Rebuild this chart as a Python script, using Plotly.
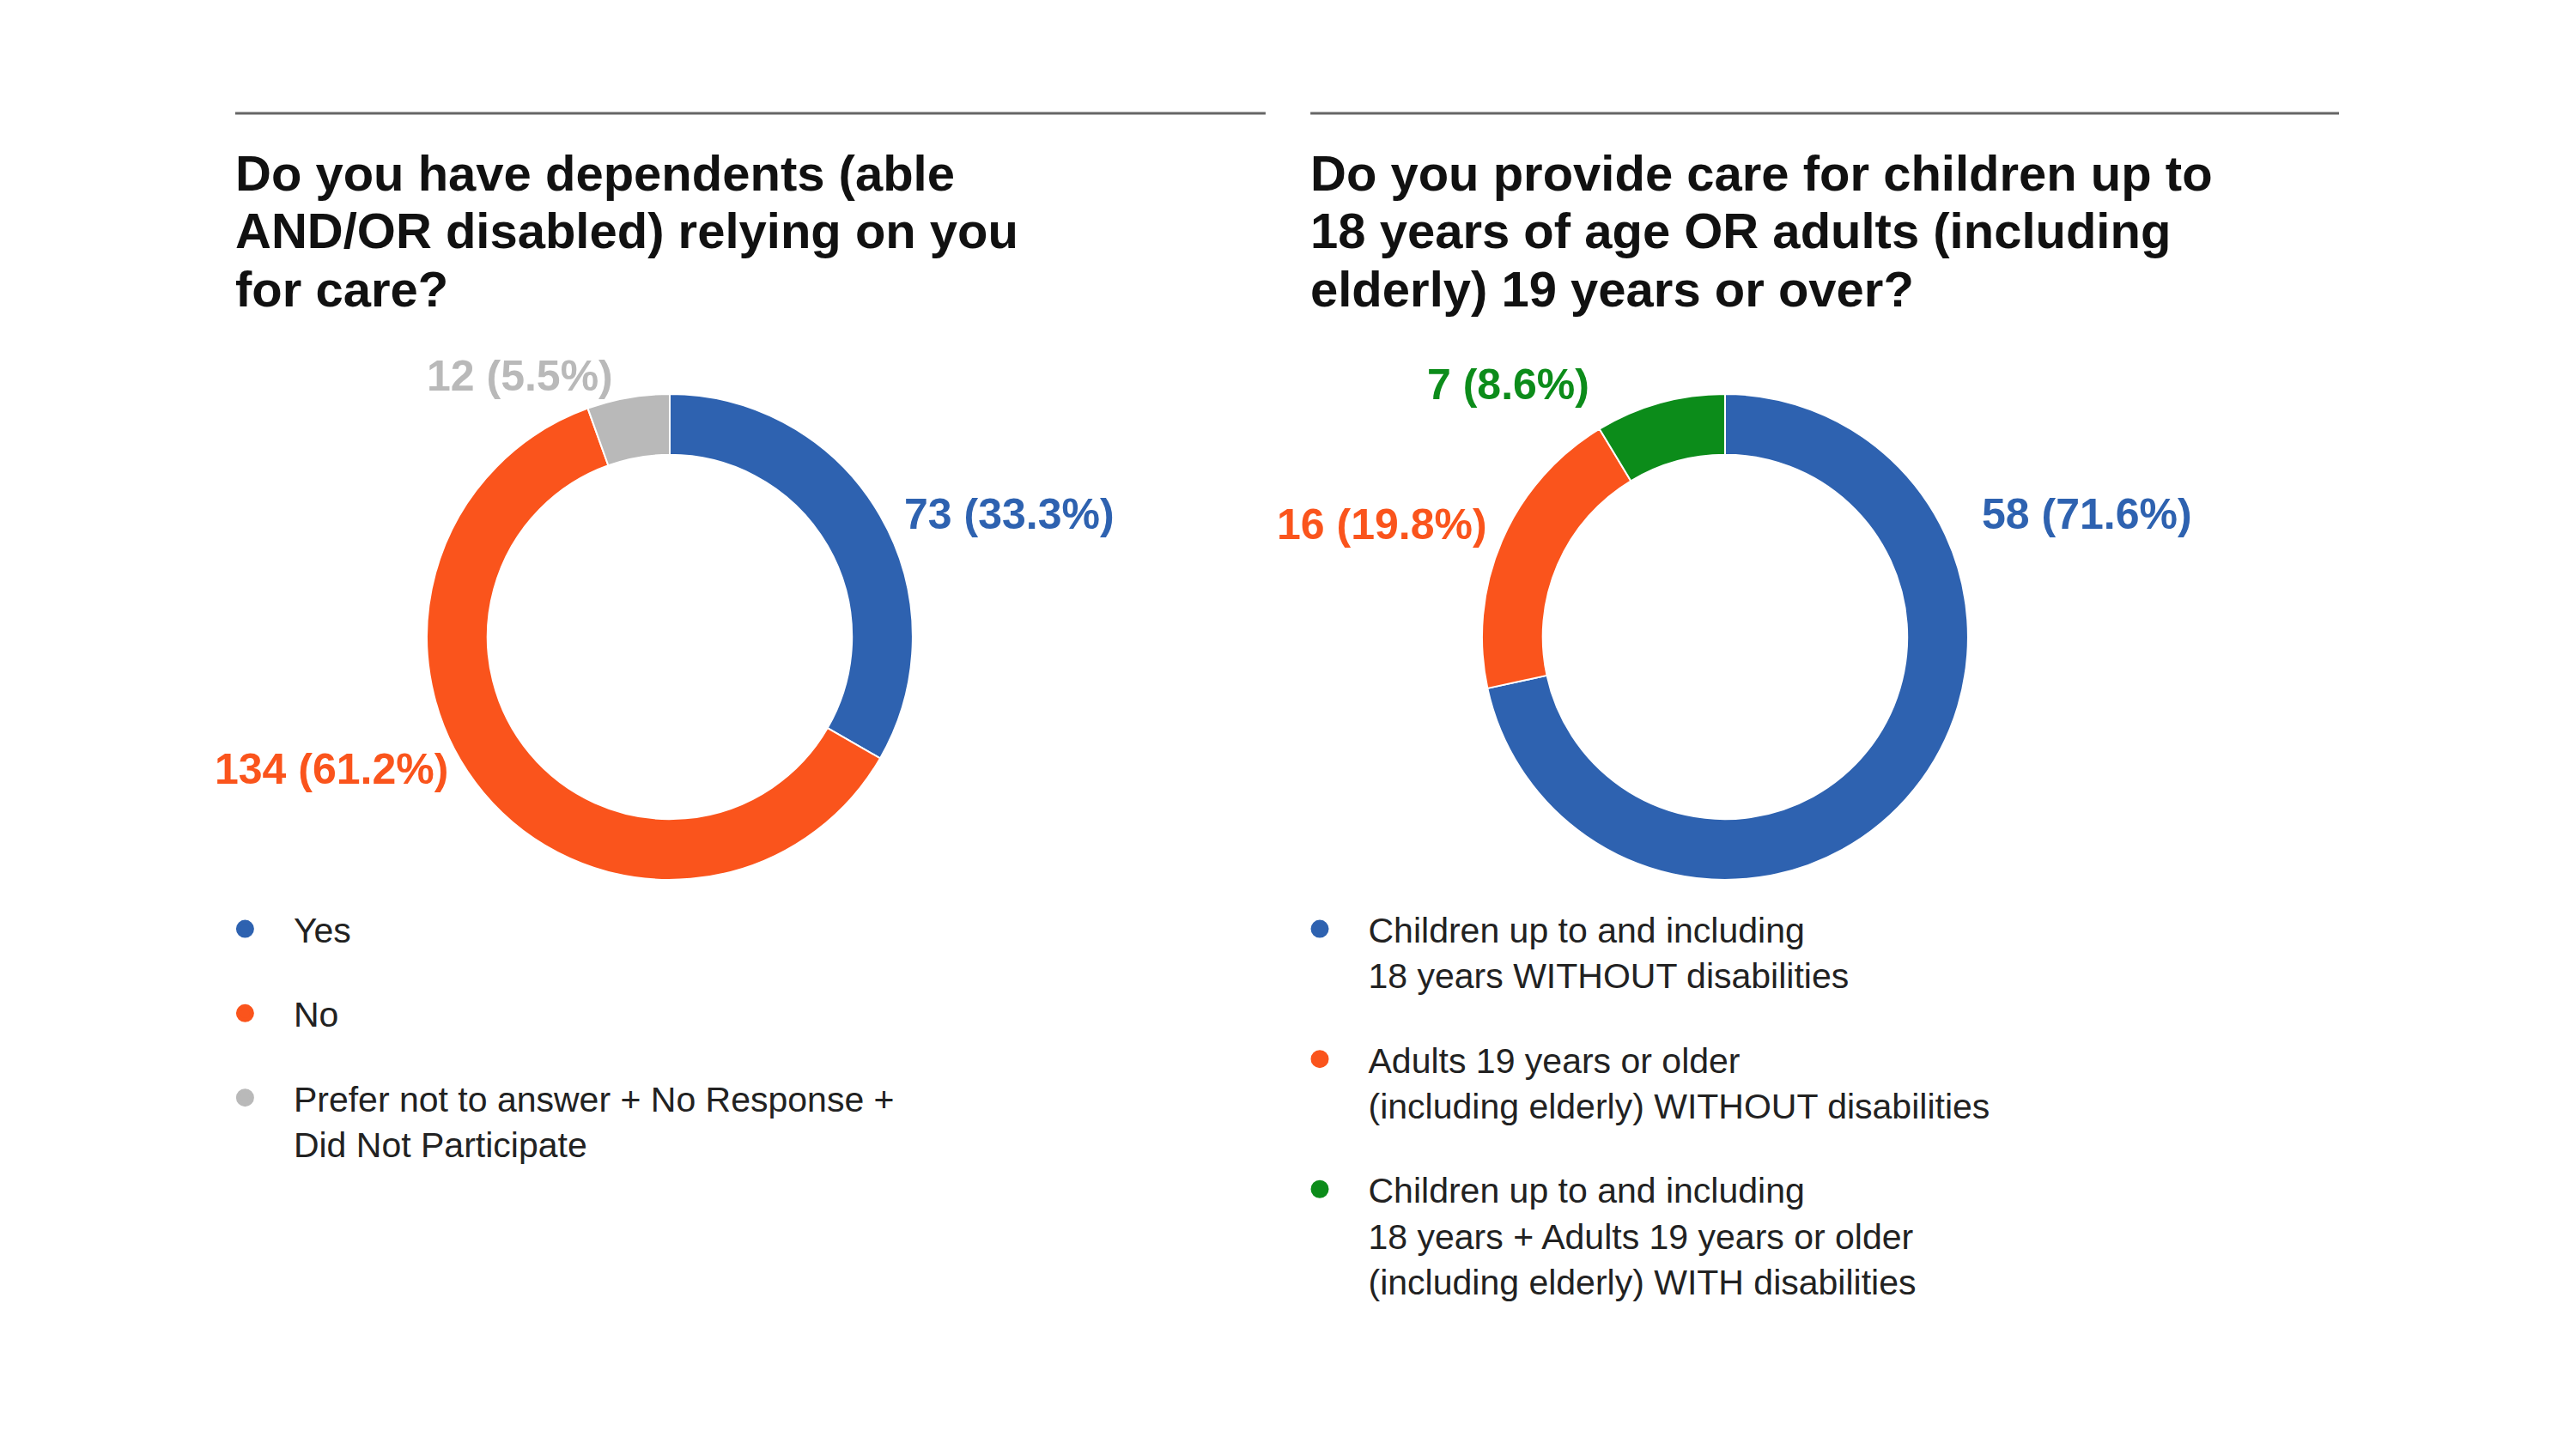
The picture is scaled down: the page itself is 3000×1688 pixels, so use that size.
import plotly.graph_objects as go

# survey answers, question 1
q1_title = ["Do you have dependents (able", "AND/OR disabled) relying on you", "for care?"]
q1_labels = ["Yes", "No", "Prefer not to answer + No Response +<br>Did Not Participate"]
q1_values = [73, 134, 12]
q1_colors = ["#2e62b0", "#fa541c", "#b9b9b9"]

# survey answers, question 2
q2_title = ["Do you provide care for children up to", "18 years of age OR adults (including", "elderly) 19 years or over?"]
q2_labels = [
    "Children up to and including<br>18 years WITHOUT disabilities",
    "Adults 19 years or older<br>(including elderly) WITHOUT disabilities",
    "Children up to and including<br>18 years + Adults 19 years or older<br>(including elderly) WITH disabilities",
]
q2_values = [58, 16, 7]
q2_colors = ["#2e62b0", "#fa541c", "#0c8c1a"]

FONT = "Liberation Sans, Arial, sans-serif"
W, H = 3000, 1688

fig = go.Figure()

# the two donuts
pie_domains = [
    dict(x=[0.1657, 0.3543], y=[0.3928, 0.7281]),
    dict(x=[0.5753, 0.7640], y=[0.3928, 0.7281]),
]
for dom, labels, values, colors in [
    (pie_domains[0], q1_labels, q1_values, q1_colors),
    (pie_domains[1], q2_labels, q2_values, q2_colors),
]:
    fig.add_trace(go.Pie(
        labels=labels,
        values=values,
        marker=dict(colors=colors, line=dict(color="white", width=2)),
        hole=0.75,
        sort=False,
        direction="clockwise",
        rotation=0,
        textinfo="none",
        showlegend=False,
        domain=dom,
    ))

# legend entries (round dots) via empty scatter traces
for legend_id, labels, colors in [("legend", q1_labels, q1_colors), ("legend2", q2_labels, q2_colors)]:
    for i, (lab, col) in enumerate(zip(labels, colors)):
        fig.add_trace(go.Scatter(
            x=[None], y=[None],
            mode="markers",
            marker=dict(size=16, color=col, line=dict(color=col, width=5)),
            name=lab,
            legend=legend_id,
            legendgroup=f"{legend_id}_{i}",
            hoverinfo="skip",
        ))

# outside value labels: "n (p%)"
def value_labels(values):
    total = sum(values)
    return [f"{v} ({v / total * 100:.1f}%)" for v in values]

label_pos_1 = [
    dict(x=0.3503, y=0.6451, xanchor="left"),
    dict(x=0.1747, y=0.4692, xanchor="right"),
    dict(x=0.2387, y=0.7405, xanchor="right"),
]
label_pos_2 = [
    dict(x=0.7687, y=0.6451, xanchor="left"),
    dict(x=0.5780, y=0.6380, xanchor="right"),
    dict(x=0.6177, y=0.7346, xanchor="right"),
]

annotations = []
for texts, colors, positions in [
    (value_labels(q1_values), q1_colors, label_pos_1),
    (value_labels(q2_values), q2_colors, label_pos_2),
]:
    for t, c, p in zip(texts, colors, positions):
        annotations.append(dict(
            text=f"<b>{t}</b>", xref="paper", yref="paper",
            x=p["x"], y=p["y"], xanchor=p["xanchor"], yanchor="middle",
            showarrow=False, font=dict(family=FONT, size=50, color=c),
        ))

# question titles, one annotation per line (tighter leading than <br>)
title_line_y = [0.8809, 0.8412, 0.8004]
for x0, lines in [(0.0907, q1_title), (0.5080, q2_title)]:
    for ly, line in zip(title_line_y, lines):
        annotations.append(dict(
            text=f"<b>{line}</b>", xref="paper", yref="paper",
            x=x0, y=ly, xanchor="left", yanchor="middle", align="left",
            showarrow=False, font=dict(family=FONT, size=58, color="#111111"),
        ))

# rules above each title
shapes = [
    dict(type="line", xref="paper", yref="paper", x0=0.0913, x1=0.4913, y0=0.9218, y1=0.9218,
         line=dict(color="#666666", width=3)),
    dict(type="line", xref="paper", yref="paper", x0=0.5087, x1=0.9080, y0=0.9218, y1=0.9218,
         line=dict(color="#666666", width=3)),
]

legend_style = dict(
    font=dict(family=FONT, size=41, color="#222222"),
    bgcolor="rgba(0,0,0,0)",
    tracegroupgap=42,
    itemwidth=103,
    valign="top",
    xanchor="left",
    yanchor="top",
    itemclick=False,
    itemdoubleclick=False,
)

fig.update_layout(
    width=W, height=H,
    autosize=False,
    margin=dict(l=0, r=0, t=0, b=0),
    paper_bgcolor="white",
    plot_bgcolor="white",
    font=dict(family=FONT),
    xaxis=dict(visible=False),
    yaxis=dict(visible=False),
    annotations=annotations,
    shapes=shapes,
    legend=dict(x=0.0763, y=0.3786, **legend_style),
    legend2=dict(x=0.4935, y=0.3786, **legend_style),
)

fig.write_html(
    "out.html",
    config={"displayModeBar": False},
    post_script="document.body.style.margin='0';",
)
